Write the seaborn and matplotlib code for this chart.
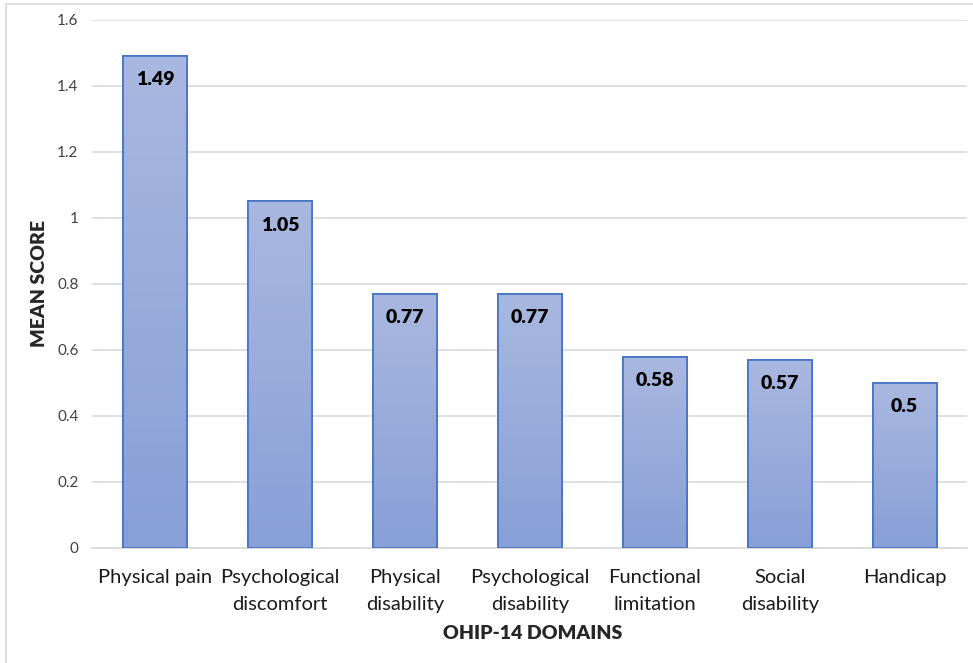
import numpy as np
import pandas as pd
import matplotlib
matplotlib.use("Agg")
import matplotlib.pyplot as plt
from matplotlib.patches import Rectangle
from matplotlib.colors import LinearSegmentedColormap
import seaborn as sns

domains = ["Physical pain", "Psychological\ndiscomfort", "Physical\ndisability",
           "Psychological\ndisability", "Functional\nlimitation", "Social\ndisability", "Handicap"]
mean_scores = [1.49, 1.05, 0.77, 0.77, 0.58, 0.57, 0.5]
value_labels = ["1.49", "1.05", "0.77", "0.77", "0.58", "0.57", "0.5"]
y_ticks = [0, 0.2, 0.4, 0.6, 0.8, 1.0, 1.2, 1.4, 1.6]
y_tick_labels = ["0", "0.2", "0.4", "0.6", "0.8", "1", "1.2", "1.4", "1.6"]

df = pd.DataFrame({"domain": domains, "score": mean_scores})

sns.set_theme(style="white")
plt.rcParams["font.family"] = ["Lato", "DejaVu Sans"]

fig = plt.figure(figsize=(9.73, 6.63), dpi=100)
ax = fig.add_axes([0.095, 0.1735, 0.899, 0.7965])

sns.barplot(data=df, x="domain", y="score", ax=ax, width=0.51,
            color="#8fa6d9", edgecolor="#4472c4", linewidth=1.2, zorder=3)

# vertical gradient fill inside each bar
cmap = LinearSegmentedColormap.from_list("barfill", ["#889fd7", "#a9b8e0"])
grad = np.linspace(0, 1, 256).reshape(-1, 1)
for patch in list(ax.patches):
    x0, y0 = patch.get_x(), patch.get_y()
    w, h = patch.get_width(), patch.get_height()
    im = ax.imshow(grad, cmap=cmap, origin="lower", aspect="auto",
                   extent=[x0, x0 + w, y0, y0 + h], zorder=3.5, interpolation="bicubic")
    im.set_clip_path(patch)
    ax.add_patch(Rectangle((x0, y0), w, h, fill=False, edgecolor="#4472c4",
                           linewidth=1.2, zorder=4))

for i, (v, lab) in enumerate(zip(mean_scores, value_labels)):
    ax.text(i, v - 0.046, lab, ha="center", va="top", fontsize=14,
            fontweight="heavy", color="black", zorder=5)

ax.set_ylim(0, 1.6)
ax.set_xlim(-0.5, len(domains) - 0.5)
ax.set_yticks(y_ticks)
ax.set_yticklabels(y_tick_labels)
ax.yaxis.grid(True, color="#d9d9d9", linewidth=1.2, zorder=0)
ax.set_axisbelow(True)
for s in ["top", "right", "left"]:
    ax.spines[s].set_visible(False)
ax.spines["bottom"].set_color("#d9d9d9")
ax.spines["bottom"].set_linewidth(1.2)

ax.tick_params(axis="y", labelsize=11, pad=10, length=0)
ax.tick_params(axis="x", labelsize=14.5, pad=15, length=0)
for t in ax.get_yticklabels():
    t.set_color("#404040")
for t in ax.get_xticklabels():
    t.set_color("#1a1a1a")
    t.set_linespacing(1.75)

ax.set_xlabel("OHIP-14 DOMAINS", fontsize=14, fontweight="heavy")
ax.set_ylabel("MEAN SCORE", fontsize=14, fontweight="heavy")
ax.xaxis.set_label_coords(0.503, -0.146)
ax.yaxis.set_label_coords(-0.051, 0.5)

# light chart-area border
fig.patches.append(Rectangle((6 / 973, -0.1), 1.2, (663 - 4.5) / 663 + 0.1,
                             transform=fig.transFigure, fill=False,
                             edgecolor="#d9d9d9", linewidth=1.2, zorder=0))

fig.savefig("out.png", dpi=100)
